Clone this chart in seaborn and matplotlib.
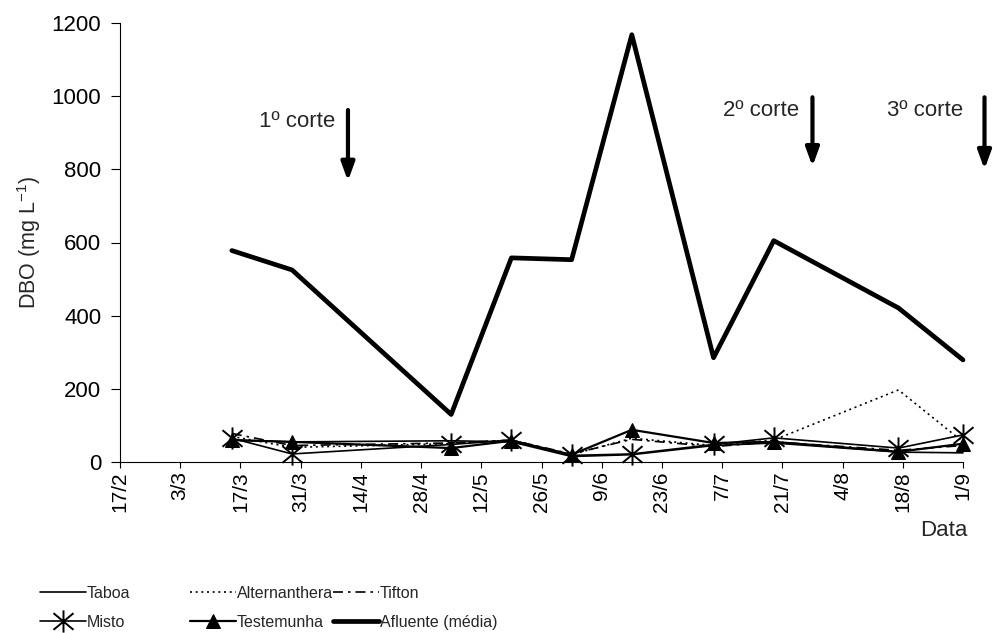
import matplotlib
matplotlib.use("Agg")
import matplotlib.pyplot as plt
import seaborn as sns
import pandas as pd
from matplotlib.path import Path
from matplotlib import font_manager

# ---------------- data ----------------
sample_dates = ["2005-03-15", "2005-03-29", "2005-05-05", "2005-05-19", "2005-06-02",
                "2005-06-16", "2005-07-05", "2005-07-19", "2005-08-17", "2005-09-01"]
taboa = [60, 55, 58, 55, 15, 20, 45, 52, 27, 25]
alternanthera = [70, 40, 50, 60, 20, 65, 45, 60, 197, 55]
tifton = [78, 45, 52, 60, 22, 62, 42, 55, 32, 45]
misto = [65, 22, 48, 60, 18, 22, 48, 66, 38, 74]
testemunha = [60, 55, 38, 58, 20, 88, 52, 55, 28, 50]
afluente = [578, 525, 130, 558, 553, 1168, 285, 605, 421, 279]

tick_dates = ["2005-02-17", "2005-03-03", "2005-03-17", "2005-03-31", "2005-04-14",
              "2005-04-28", "2005-05-12", "2005-05-26", "2005-06-09", "2005-06-23",
              "2005-07-07", "2005-07-21", "2005-08-04", "2005-08-18", "2005-09-01"]
tick_labels = ["17/2", "3/3", "17/3", "31/3", "14/4", "28/4", "12/5", "26/5", "9/6",
               "23/6", "7/7", "21/7", "4/8", "18/8", "1/9"]
y_ticks = [0, 200, 400, 600, 800, 1000, 1200]

cuts = ["1º corte", "2º corte", "3º corte"]
cut_dates = ["2005-04-11", "2005-07-28", "2005-09-06"]
cut_arrow_top = [962, 997, 997]
cut_arrow_bottom = [768, 808, 800]
cut_text_dates = ["2005-04-08", "2005-07-25", "2005-09-01"]
cut_text_y = [932, 962, 962]

# ---------------- style ----------------
sns.set_style("ticks")
plt.rcParams["font.family"] = ["Liberation Sans", "DejaVu Sans"]
plt.rcParams["mathtext.fontset"] = "custom"
plt.rcParams["mathtext.rm"] = "Liberation Sans"
plt.rcParams["mathtext.it"] = "Liberation Sans:italic"

available = {f.name for f in font_manager.fontManager.ttflist}
if "Liberation Sans Narrow" in available:
    legend_prop = {"family": ["Liberation Sans Narrow"], "size": 13.5}
else:
    legend_prop = {"family": ["Liberation Sans"], "size": 11.5}

fig = plt.figure(figsize=(9.93, 6.33), dpi=100)
ax = fig.add_axes([120 / 993, 1 - 462 / 633, (963 - 120) / 993, (462 - 23) / 633])

x = pd.to_datetime(sample_dates)

star = Path([(0, -1), (0, 1), (-0.9, -0.75), (0.9, 0.75), (-0.9, 0.75), (0.9, -0.75)],
            [Path.MOVETO, Path.LINETO, Path.MOVETO, Path.LINETO, Path.MOVETO, Path.LINETO])

series = [
    ("Taboa", taboa, dict(lw=1.2, linestyle="-")),
    ("Alternanthera", alternanthera, dict(lw=1.2, linestyle=(0, (1.2, 2.2)))),
    ("Tifton", tifton, dict(lw=1.2, linestyle=(0, (6, 3, 1.5, 3)))),
    ("Misto", misto, dict(lw=1.2, linestyle="-", marker=star, markersize=16,
                          markeredgewidth=1.4, markeredgecolor="black")),
    ("Testemunha", testemunha, dict(lw=1.6, linestyle="-", marker="^", markersize=9.5,
                                    markerfacecolor="black", markeredgecolor="black")),
    ("Afluente (média)", afluente, dict(lw=3.4, linestyle="-")),
]

handles = {}
for name, vals, kw in series:
    sns.lineplot(x=x, y=vals, ax=ax, color="black", clip_on=False, label=name, **kw)
    handles[name] = ax.get_lines()[-1]
if ax.get_legend() is not None:
    ax.get_legend().remove()

ax.set_xlim(pd.Timestamp(tick_dates[0]), pd.Timestamp(tick_dates[-1]))
ax.set_ylim(0, 1200)
ax.set_xticks(pd.to_datetime(tick_dates))
ax.set_xticklabels(tick_labels, rotation=90, fontsize=15)
ax.set_yticks(y_ticks)
ax.set_yticklabels([str(v) for v in y_ticks], fontsize=16)
ax.tick_params(axis="y", length=6.5, width=0.8, pad=7, colors="black")
ax.tick_params(axis="x", length=4.5, width=0.8, pad=2, colors="black")
for s in ["top", "right"]:
    ax.spines[s].set_visible(False)
for s in ["left", "bottom"]:
    ax.spines[s].set_color("black")
    ax.spines[s].set_linewidth(0.8)
ax.set_xlabel("")
ax.set_ylabel("DBO (mg L$^{\\mathregular{-1}}$)", fontsize=15.5, labelpad=6)
ax.grid(False)

# cut arrows
for label, cd, yt, yb, td, ty in zip(cuts, cut_dates, cut_arrow_top, cut_arrow_bottom,
                                     cut_text_dates, cut_text_y):
    ax.annotate("", xy=(pd.Timestamp(cd), yb), xytext=(pd.Timestamp(cd), yt),
                arrowprops=dict(arrowstyle="-|>,head_width=0.4,head_length=1.1",
                                lw=3.0, color="black", shrinkA=0, shrinkB=0),
                annotation_clip=False)
    ax.text(pd.Timestamp(td), ty, label, ha="right", va="center", fontsize=16,
            clip_on=False)

fig.text(967 / 993, 1 - 530 / 633, "Data", ha="right", va="center", fontsize=16)

# legend (three columns)
cols = [["Taboa", "Misto"], ["Alternanthera", "Testemunha"], ["Tifton", "Afluente (média)"]]
col_x = [40 / 993, 190 / 993, 333 / 993]
for names, cx in zip(cols, col_x):
    fig.legend([handles[n] for n in names], names, loc="upper left",
               bbox_to_anchor=(cx, 1 - 586 / 633), frameon=False, borderpad=0,
               borderaxespad=0, handlelength=2.9, handletextpad=0.05, labelspacing=0.85,
               prop=legend_prop)

fig.savefig("out.png", dpi=100)
